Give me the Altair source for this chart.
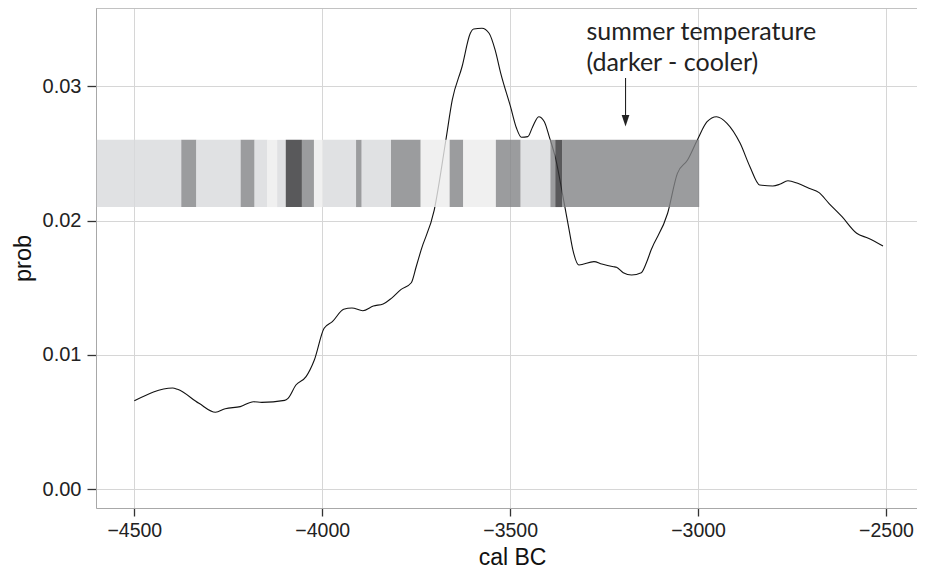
import altair as alt
import pandas as pd

# ---- density curve ----
cal_bc = [-4500, -4398, -4385, -4328, -4284, -4258, -4218, -4183, -4161, -4100,
          -4091, -4070, -4043, -4021, -3995, -3973, -3943, -3921, -3892, -3864,
          -3838, -3816, -3790, -3763, -3750, -3737, -3702, -3671, -3654, -3628,
          -3606, -3597, -3575, -3556, -3540, -3525, -3499, -3483, -3470, -3453,
          -3440, -3424, -3409, -3396, -3378, -3361, -3343, -3333, -3317, -3277,
          -3256, -3225, -3217, -3199, -3177, -3151, -3138, -3125, -3081, -3055,
          -3028, -3002, -2976, -2951, -2923, -2888, -2862, -2836, -2801, -2783,
          -2761, -2735, -2705, -2678, -2652, -2617, -2578, -2547, -2508]
prob = [0.00659, 0.00754, 0.00744, 0.00640, 0.00573, 0.00600, 0.00615, 0.00652, 0.00647, 0.00662,
        0.00677, 0.00776, 0.00838, 0.00962, 0.01198, 0.01247, 0.01339, 0.01349, 0.01329, 0.01364,
        0.01379, 0.01421, 0.01488, 0.01537, 0.01656, 0.01780, 0.02078, 0.02599, 0.02897, 0.03144,
        0.03393, 0.03425, 0.03430, 0.03393, 0.03269, 0.03095, 0.02847, 0.02686, 0.02619, 0.02624,
        0.02698, 0.02772, 0.02735, 0.02624, 0.02450, 0.02202, 0.01929, 0.01780, 0.01669, 0.01694,
        0.01676, 0.01656, 0.01652, 0.01612, 0.01594, 0.01612, 0.01682, 0.01780, 0.02054, 0.02351,
        0.02450, 0.02599, 0.02735, 0.02772, 0.02723, 0.02574, 0.02400, 0.02264, 0.02257, 0.02269,
        0.02296, 0.02277, 0.02240, 0.02207, 0.02128, 0.02028, 0.01905, 0.01868, 0.01810]

# ---- summer temperature strip ----
band_start = [-4600, -4375, -4335, -4217, -4180, -4146, -4120, -4097, -4054, -4022, -3998,
              -3910, -3895, -3817, -3738, -3661, -3625, -3538, -3472, -3393, -3380, -3362]
band_end = [-4375, -4335, -4217, -4180, -4146, -4120, -4097, -4054, -4022, -3998, -3910,
            -3895, -3817, -3738, -3661, -3625, -3538, -3472, -3393, -3380, -3362, -2997]
band_level = ["light", "mid", "light", "mid", "light", "vlight", "light", "dark", "mid", "vlight", "light",
              "mid", "light", "mid", "vlight", "mid", "vlight", "mid", "light", "mid", "dark", "mid"]
strip_low = 0.021
strip_high = 0.026

level_names = ["dark", "mid", "light", "vlight"]
level_colors = ["#2f3032", "#828386", "#d8d9dc", "#ececec"]

# ---- annotation ----
note_lines = ["summer temperature", "(darker - cooler)"]
note_x = [-3297, -3297]
note_y = [0.03345, 0.03115]
arrow_x = -3193
arrow_top = 0.0306
arrow_bottom = 0.0276
arrow_head_y = 0.02742

x_ticks = [-4500, -4000, -3500, -3000, -2500]
y_ticks = [0.00, 0.01, 0.02, 0.03]

W, H = 821, 500
xscale = alt.Scale(domain=[-4601.9, -2417.5], nice=False, zero=False)
yscale = alt.Scale(domain=[-0.00139, 0.03581], nice=False, zero=False)

curve_df = pd.DataFrame({"cal": cal_bc, "prob": prob})
band_df = pd.DataFrame({"start": band_start, "end": band_end, "level": band_level,
                        "lo": [strip_low] * len(band_start), "hi": [strip_high] * len(band_start)})
note_df = pd.DataFrame({"x": note_x, "y": note_y, "t": note_lines})
arrow_df = pd.DataFrame({"x": [arrow_x], "y1": [arrow_top], "y2": [arrow_bottom], "yh": [arrow_head_y]})

LABEL_FONT = "Liberation Sans"

x_axis = alt.Axis(values=x_ticks, format="d", title="cal BC", grid=True,
                  gridColor="#d6d6d6", gridWidth=1,
                  domain=True, domainColor="#a8a8a8", domainWidth=1,
                  ticks=True, tickColor="#333333", tickSize=8, tickWidth=1.3,
                  labelFont=LABEL_FONT, labelFontSize=19.5, labelColor="#222222",
                  labelBaseline="alphabetic", labelPadding=20, labelOverlap=False,
                  titleFont=LABEL_FONT, titleFontSize=23, titleColor="#111111",
                  titleFontWeight="normal", titleX=416, titleY=56,
                  titleBaseline="alphabetic", titleAlign="center")
y_axis = alt.Axis(values=y_ticks, format=".2f", title="prob", grid=True,
                  gridColor="#d6d6d6", gridWidth=1,
                  domain=True, domainColor="#a8a8a8", domainWidth=1,
                  ticks=True, tickColor="#333333", tickSize=9, tickWidth=1.3,
                  labelFont=LABEL_FONT, labelFontSize=20, labelColor="#222222",
                  labelPadding=6,
                  titleFont=LABEL_FONT, titleFontSize=23.5, titleColor="#111111",
                  titleFontWeight="normal", titleAngle=-90, titleX=-73, titleY=H / 2,
                  titleBaseline="middle", titleAlign="center")

curve = alt.Chart(curve_df).mark_line(color="#111111", strokeWidth=1.1, interpolate="monotone").encode(
    x=alt.X("cal:Q", scale=xscale, axis=x_axis),
    y=alt.Y("prob:Q", scale=yscale, axis=y_axis),
)

strip = alt.Chart(band_df).mark_rect(opacity=0.8).encode(
    x=alt.X("start:Q", scale=xscale),
    x2="end:Q",
    y=alt.Y("lo:Q", scale=yscale),
    y2="hi:Q",
    color=alt.Color("level:N", scale=alt.Scale(domain=level_names, range=level_colors), legend=None),
)

note = alt.Chart(note_df).mark_text(align="left", baseline="alphabetic", font="Lato",
                                    fontSize=25, color="#222222").encode(
    x=alt.X("x:Q", scale=xscale), y=alt.Y("y:Q", scale=yscale), text="t:N")

arrow_line = alt.Chart(arrow_df).mark_rule(color="#222222", strokeWidth=1.1).encode(
    x=alt.X("x:Q", scale=xscale), y=alt.Y("y1:Q", scale=yscale), y2="y2:Q")

arrow_head = alt.Chart(arrow_df).mark_point(
    shape="M-0.66,-1 L0.66,-1 L0,1 Z", filled=True, color="#222222", size=137, opacity=1
).encode(x=alt.X("x:Q", scale=xscale), y=alt.Y("yh:Q", scale=yscale))

top_border = alt.Chart(pd.DataFrame({"k": [0]})).mark_rule(color="#a8a8a8", strokeWidth=1).encode(
    x=alt.value(0), x2=alt.value(W), y=alt.value(0))

chart = alt.layer(curve, strip, note, arrow_line, arrow_head, top_border).properties(
    width=W, height=H,
    autosize=alt.AutoSizeParams(type="none"),
    padding={"left": 88, "top": 0, "right": 0, "bottom": 60},
).configure_view(stroke=None).configure(background="white")

chart.save("out.html", embed_options={"renderer": "svg", "actions": False})
